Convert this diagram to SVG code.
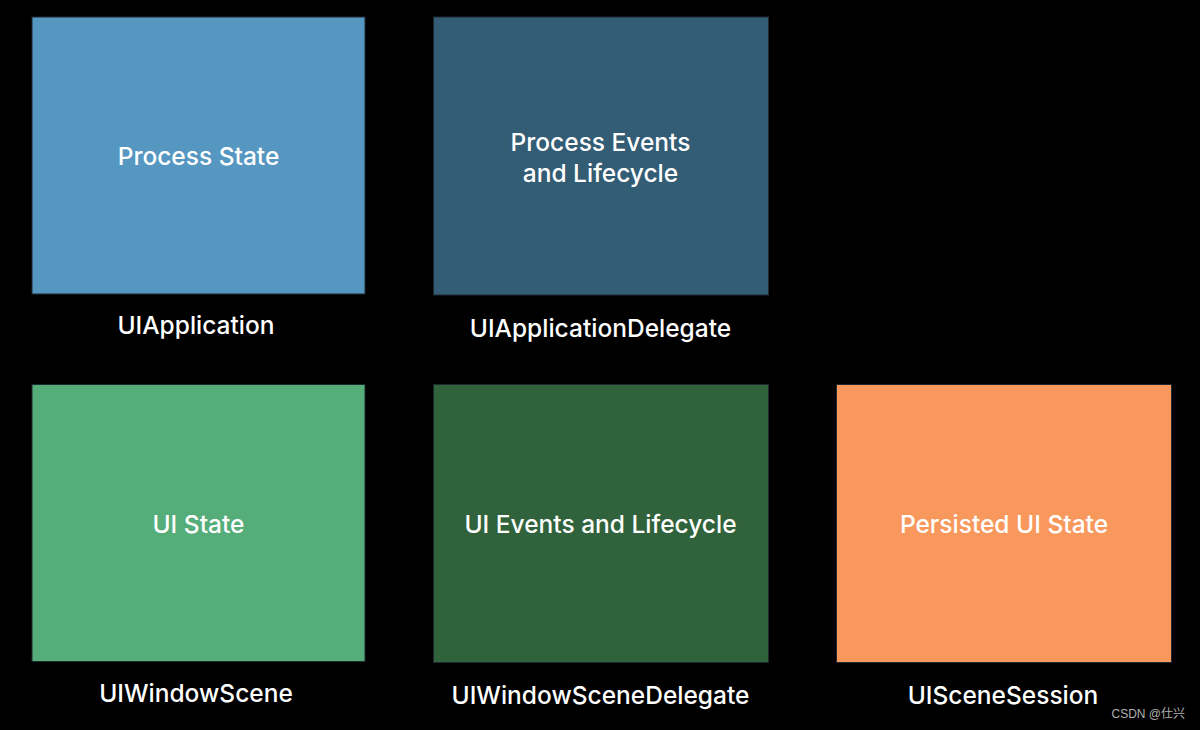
<svg xmlns="http://www.w3.org/2000/svg" width="1200" height="730" viewBox="0 0 1200 730">
<style>
.box{stroke:#1e2a30;stroke-width:1}
.t{font-family:Inter,"Liberation Sans",sans-serif;font-size:24.5px;font-weight:500;fill:#ffffff;text-anchor:middle}
.wm{font-family:"Liberation Sans","Noto Sans CJK SC",sans-serif;font-size:12px;fill:#b0b0b0;text-anchor:end}
</style>
<rect x="0" y="0" width="1200" height="730" fill="#000000"/>
<g id="uiapplication">
<rect class="box" x="32" y="17" width="333" height="277" fill="#5597c1"/>
<text class="t" x="198.5" y="165">Process State</text>
<text class="t" x="196" y="334">UIApplication</text>
</g>
<g id="uiapplicationdelegate">
<rect class="box" x="433.5" y="17" width="335" height="278" fill="#335c75"/>
<text class="t" x="600.5" y="151">Process Events</text>
<text class="t" x="600.5" y="182">and Lifecycle</text>
<text class="t" x="600.5" y="337">UIApplicationDelegate</text>
</g>
<g id="uiwindowscene">
<rect class="box" x="32" y="384.5" width="333" height="277" fill="#55ad7a"/>
<text class="t" x="198.5" y="533">UI State</text>
<text class="t" x="196" y="702">UIWindowScene</text>
</g>
<g id="uiwindowscenedelegate">
<rect class="box" x="433.5" y="384.5" width="335" height="278" fill="#30623c"/>
<text class="t" x="600.5" y="533">UI Events and Lifecycle</text>
<text class="t" x="600.5" y="704">UIWindowSceneDelegate</text>
</g>
<g id="uiscenesession">
<rect class="box" x="836.5" y="384.5" width="335" height="278" fill="#f9985d"/>
<text class="t" x="1004" y="533">Persisted UI State</text>
<text class="t" x="1003" y="704">UISceneSession</text>
</g>
<g id="connectors"></g>
<text class="wm" x="1185" y="718">CSDN @仕兴</text>
</svg>
